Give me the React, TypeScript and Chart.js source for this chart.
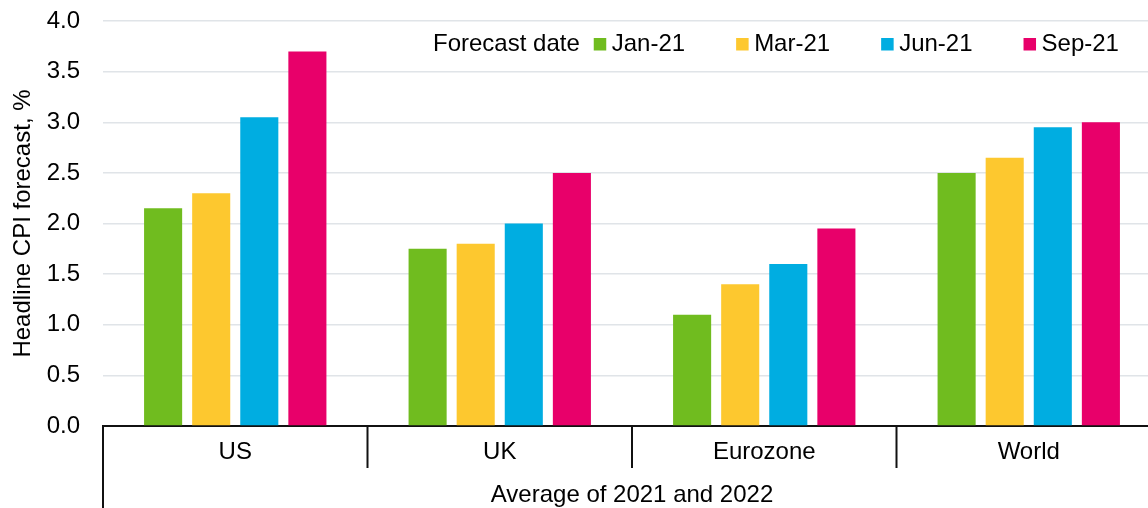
import React, { useEffect, useRef } from "react";
import { Chart, registerables } from "chart.js";

Chart.register(...registerables);

// Regions on the category axis
const regions = ["US", "UK", "Eurozone", "World"];
// Forecast vintages (one bar series each)
const forecastDates = ["Jan-21", "Mar-21", "Jun-21", "Sep-21"];
// Headline CPI forecasts, average of 2021 and 2022, %
const jan21 = [2.15, 1.75, 1.1, 2.5];
const mar21 = [2.3, 1.8, 1.4, 2.65];
const jun21 = [3.05, 2.0, 1.6, 2.95];
const sep21 = [3.7, 2.5, 1.95, 3.0];
// Value axis tick labels
const yTickLabels = ["0.0", "0.5", "1.0", "1.5", "2.0", "2.5", "3.0", "3.5", "4.0"];

const seriesValues = [jan21, mar21, jun21, sep21];
const seriesColors = ["#70bc1f", "#fdc82f", "#00ade1", "#e8006a"];

const FONT_FAMILY = '"Liberation Sans", Arial, sans-serif';
const TEXT_COLOR = "#000000";
const LINE_COLOR = "#111111";
const GRID_COLOR = "#e0e4e8";

// Vertical separators between the region labels, plus the outer frame
// that runs down past the group title.
const categoryDividers = {
  id: "categoryDividers",
  afterDraw(chart: any) {
    const { ctx, chartArea } = chart;
    const xs = chart.scales.x;
    const n = chart.data.labels.length;
    const step = (xs.right - xs.left) / n;
    ctx.save();
    ctx.strokeStyle = LINE_COLOR;
    ctx.lineWidth = 2;
    for (let i = 0; i <= n; i++) {
      const x = xs.left + i * step;
      const outer = i === 0 || i === n;
      ctx.beginPath();
      ctx.moveTo(x, chartArea.bottom);
      ctx.lineTo(x, outer ? chart.height : chartArea.bottom + 42);
      ctx.stroke();
    }
    ctx.restore();
  },
};

// Single-row legend with a leading caption, placed inside the plot area.
const inlineLegend = {
  id: "inlineLegend",
  afterDraw(chart: any) {
    const { ctx, chartArea } = chart;
    ctx.save();
    ctx.font = `24px ${FONT_FAMILY}`;
    ctx.textBaseline = "middle";
    ctx.textAlign = "left";
    const caption = "Forecast date";
    let x = chartArea.left + 330;
    const y = chartArea.top + 23;
    ctx.fillStyle = TEXT_COLOR;
    ctx.fillText(caption, x, y);
    x += ctx.measureText(caption).width + 14;
    chart.data.datasets.forEach((ds: any) => {
      ctx.fillStyle = ds.backgroundColor;
      ctx.fillRect(x, y - 6, 12.5, 12.5);
      ctx.fillStyle = TEXT_COLOR;
      ctx.fillText(ds.label, x + 18, y);
      x += 18 + ctx.measureText(ds.label).width + 51;
    });
    ctx.restore();
  },
};

export default function App() {
  const canvasRef = useRef<HTMLCanvasElement | null>(null);

  useEffect(() => {
    if (!canvasRef.current) return;
    const font = { family: FONT_FAMILY, size: 24, lineHeight: 1.2 };
    const chart = new Chart(canvasRef.current, {
      type: "bar",
      data: {
        labels: regions,
        datasets: forecastDates.map((label, i) => ({
          label,
          data: seriesValues[i],
          backgroundColor: seriesColors[i],
          borderWidth: 0,
          categoryPercentage: 0.7273,
          barPercentage: 0.7917,
        })),
      },
      options: {
        responsive: false,
        animation: false,
        layout: { padding: { top: 21, right: 0, bottom: 0, left: 0 } },
        plugins: {
          legend: { display: false },
          tooltip: { enabled: false },
        },
        scales: {
          x: {
            offset: true,
            grid: { display: false, drawTicks: false },
            border: { display: true, color: LINE_COLOR, width: 2 },
            ticks: { color: TEXT_COLOR, font, padding: 12, maxRotation: 0 },
            title: {
              display: true,
              text: "Average of 2021 and 2022",
              color: TEXT_COLOR,
              font: { family: FONT_FAMILY, size: 24, lineHeight: 1 },
              padding: { top: 0, bottom: 1 },
            },
            afterFit: (s: any) => {
              s.height = 82;
            },
          },
          y: {
            min: 0,
            max: 4,
            grid: {
              drawTicks: false,
              lineWidth: 1.5,
              color: (c: any) => (c.tick && c.tick.value === 0 ? "rgba(0,0,0,0)" : GRID_COLOR),
            },
            border: { display: false },
            ticks: {
              stepSize: 0.5,
              padding: 23,
              color: TEXT_COLOR,
              font,
              callback: (_v: any, i: number) => yTickLabels[i],
            },
            title: {
              display: true,
              text: "Headline CPI forecast, %",
              color: TEXT_COLOR,
              font: { family: FONT_FAMILY, size: 24, lineHeight: 1 },
              padding: { top: 11, bottom: 0 },
            },
            afterFit: (s: any) => {
              s.width = 103;
              s.paddingTop = 0;
              s.paddingBottom = 0;
            },
          },
        },
      },
      plugins: [categoryDividers, inlineLegend],
    });
    return () => chart.destroy();
  }, []);

  return (
    <div
      style={{
        position: "fixed",
        left: 0,
        top: 0,
        width: 1148,
        height: 508,
        overflow: "hidden",
        background: "#ffffff",
      }}
    >
      <canvas ref={canvasRef} width={1161} height={508} style={{ display: "block" }} />
    </div>
  );
}
